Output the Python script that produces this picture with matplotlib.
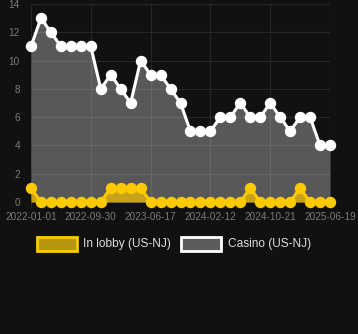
import matplotlib
matplotlib.use("Agg")
import matplotlib.pyplot as plt
from matplotlib.patches import Rectangle

casino = [11, 13, 12, 11, 11, 11, 11, 8, 9, 8, 7, 10, 9, 9, 8, 7, 5, 5, 5, 6, 6, 7, 6, 6, 7, 6, 5, 6, 6, 4, 4]
lobby = [1, 0, 0, 0, 0, 0, 0, 0, 1, 1, 1, 1, 0, 0, 0, 0, 0, 0, 0, 0, 0, 0, 1, 0, 0, 0, 0, 1, 0, 0, 0]
tick_idx = [0, 6, 12, 18, 24, 30]
tick_labels = ["2022-01-01", "2022-09-30", "2023-06-17", "2024-02-12", "2024-10-21", "2025-06-19"]
yticks = [0, 2, 4, 6, 8, 10, 12, 14]

plt.rcParams['font.family'] = ['Liberation Sans', 'DejaVu Sans']
BG = "#111111"
YEL = "#fdca00"
fig = plt.figure(figsize=(3.58, 3.34), dpi=100, facecolor=BG)
W, H = 358, 334
ax = fig.add_axes([31 / W, (H - 202) / H, (330 - 31) / W, (202 - 4) / H])
ax.set_facecolor(BG)
ax.set_axisbelow(True)
x = list(range(len(casino)))

ax.fill_between(x, casino, 0, color="white", alpha=0.3, lw=0, zorder=1)
ax.fill_between(x, lobby, 0, color="#c9a21c", lw=0, zorder=2)
ax.plot(x, casino, color="white", lw=2.2, marker="o", ms=7.2, mec="white", mfc="white", zorder=4, clip_on=False)
ax.plot(x, lobby, color=YEL, lw=2.2, marker="o", ms=7.2, mec=YEL, mfc=YEL, zorder=5, clip_on=False)

ax.set_xlim(0, 30)
ax.set_ylim(0, 14)
ax.set_yticks(yticks)
ax.set_xticks(tick_idx)
ax.set_xticklabels(tick_labels)
ax.tick_params(colors="#7a7a7a", labelsize=7.2, length=4, width=0.8)
ax.tick_params(axis="y", color=BG, pad=4)
ax.tick_params(axis="x", color="#262626", pad=3)
ax.grid(True, color="#262626", lw=0.8)
for s in ax.spines.values():
    s.set_visible(False)

def fy(y):
    return (H - y) / H

def fx(xv):
    return xv / W

fig.add_artist(Rectangle((fx(37), fy(251)), 40 / W, 14 / H, facecolor="#b8950f", edgecolor=YEL, lw=2, transform=fig.transFigure))
fig.text(fx(83), fy(243.5), "In lobby (US-NJ)", color="#dddddd", fontsize=8.6, va="center", ha="left")
fig.add_artist(Rectangle((fx(181), fy(251)), 40 / W, 14 / H, facecolor="#5b5b5b", edgecolor="white", lw=2, transform=fig.transFigure))
fig.text(fx(228), fy(243.5), "Casino (US-NJ)", color="#dddddd", fontsize=8.6, va="center", ha="left")

fig.savefig("out.png", dpi=100, facecolor=BG)
